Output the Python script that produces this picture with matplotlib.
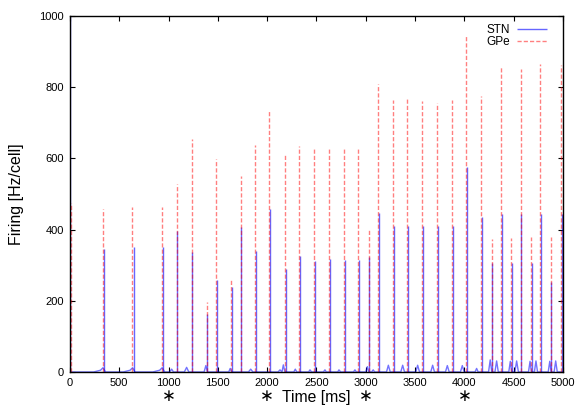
import matplotlib
matplotlib.use('Agg')
import matplotlib.pyplot as plt

plt.rcParams['font.family'] = ['Liberation Sans', 'DejaVu Sans']

# spike peaks: time [ms], firing [Hz/cell]
gpe_t = [8, 338, 632, 933, 1082, 1234, 1390, 1481, 1636, 1731, 1880, 2022,
         2177, 2326, 2478, 2627, 2776, 2924, 3029, 3120, 3272, 3421, 3573,
         3722, 3871, 4020, 4168, 4277, 4371, 4476, 4571, 4675, 4770, 4875, 4977]
gpe_v = [475, 457, 464, 464, 527, 655, 197, 599, 261, 551, 638, 735,
         611, 634, 627, 626, 630, 626, 400, 810, 763, 766, 762,
         757, 765, 948, 774, 373, 856, 376, 852, 378, 865, 379, 862]

stn_t = [3, 348, 646, 946, 1086, 1241, 1392, 1491, 1640, 1735, 1890, 2032,
         2187, 2336, 2488, 2637, 2786, 2934, 3035, 3130, 3282, 3431, 3583,
         3732, 3881, 4027, 4175, 4283, 4378, 4482, 4578, 4681, 4777, 4880, 4985]
stn_v = [1000, 345, 351, 351, 395, 337, 162, 258, 238, 408, 340, 457,
         288, 326, 313, 317, 314, 314, 323, 447, 411, 410, 410,
         410, 410, 576, 436, 305, 443, 307, 445, 305, 443, 253, 445]

# small STN activity between the spikes
stn_bg_t = [0, 240, 310, 335, 360, 540, 610, 635, 660, 840, 910, 935, 960,
            1010, 1031, 1050, 1160, 1183, 1205, 1360, 1378, 1395, 1610, 1625,
            1640, 1810, 1833, 1855, 2110, 2130, 2150, 2164, 2180, 2270, 2285,
            2300, 2420, 2434, 2450, 2570, 2586, 2600, 2715, 2728, 2745, 2875,
            2890, 2905, 3000, 3016, 3030, 3060, 3075, 3090, 3210, 3229, 3248,
            3355, 3374, 3393, 3507, 3526, 3545, 3659, 3678, 3697, 3808, 3827,
            3846, 3960, 3979, 3998, 4108, 4124, 4140, 4245, 4262, 4278, 4310,
            4327, 4344, 4450, 4466, 4480, 4512, 4530, 4548, 4650, 4666, 4680,
            4710, 4726, 4742, 4850, 4866, 4880, 4910, 4926, 4942, 5000]
stn_bg_v = [0, 0, 5, 12, 0, 0, 5, 12, 0, 0, 5, 12, 0,
            0, 8, 0, 0, 13, 0, 0, 18, 0, 0, 10,
            0, 0, 8, 0, 0, 6, 0, 20, 0, 0, 8,
            0, 0, 6, 0, 0, 6, 0, 0, 6, 0, 0,
            6, 0, 0, 15, 0, 0, 6, 0, 0, 19, 0,
            0, 19, 0, 0, 19, 0, 0, 19, 0, 0, 18,
            0, 0, 18, 0, 0, 10, 0, 0, 34, 0, 0,
            31, 0, 0, 30, 0, 0, 31, 0, 0, 30, 0,
            0, 31, 0, 0, 30, 0, 0, 31, 0, 0]

marks = [1000, 2000, 3000, 4000]

fig = plt.figure(figsize=(5.75, 4.05), dpi=100)
ax = fig.add_axes([0.1217, 0.0815, 0.8574, 0.879])

ax.plot(stn_bg_t, stn_bg_v, color='#0000ff', lw=1.0, alpha=0.55)
ax.vlines(stn_t, 0, stn_v, colors='#0000ff', lw=1.0, alpha=0.6, label='STN')
ax.vlines(gpe_t, 0, gpe_v, colors='#ff0000', lw=1.0, alpha=0.5,
          linestyles=(0, (3, 1.5)), label='GPe')

ax.set_xlim(0, 5000)
ax.set_ylim(0, 1000)
ax.set_xticks(range(0, 5001, 500))
ax.set_yticks(range(0, 1001, 200))
ax.tick_params(direction='in', length=3.6, width=0.8, top=True, right=True,
               labelsize=8, pad=4.5)
for s in ax.spines.values():
    s.set_linewidth(1.0)

ax.set_ylabel('Firing [Hz/cell]', fontsize=11.5, labelpad=11)
ax.set_xlabel('Time [ms]', fontsize=11.3, labelpad=1.5)
for m in marks:
    ax.text(m, -0.068, '\u2217', transform=ax.get_xaxis_transform(),
            ha='center', va='center', fontsize=12, family='DejaVu Sans')

ax.legend(loc='upper right', bbox_to_anchor=(0.985, 1.0), frameon=False,
          markerfirst=False, fontsize=8.5, handlelength=2.6, handletextpad=0.6,
          labelspacing=0.0, borderaxespad=0.3)

fig.savefig('out.png', dpi=100)
